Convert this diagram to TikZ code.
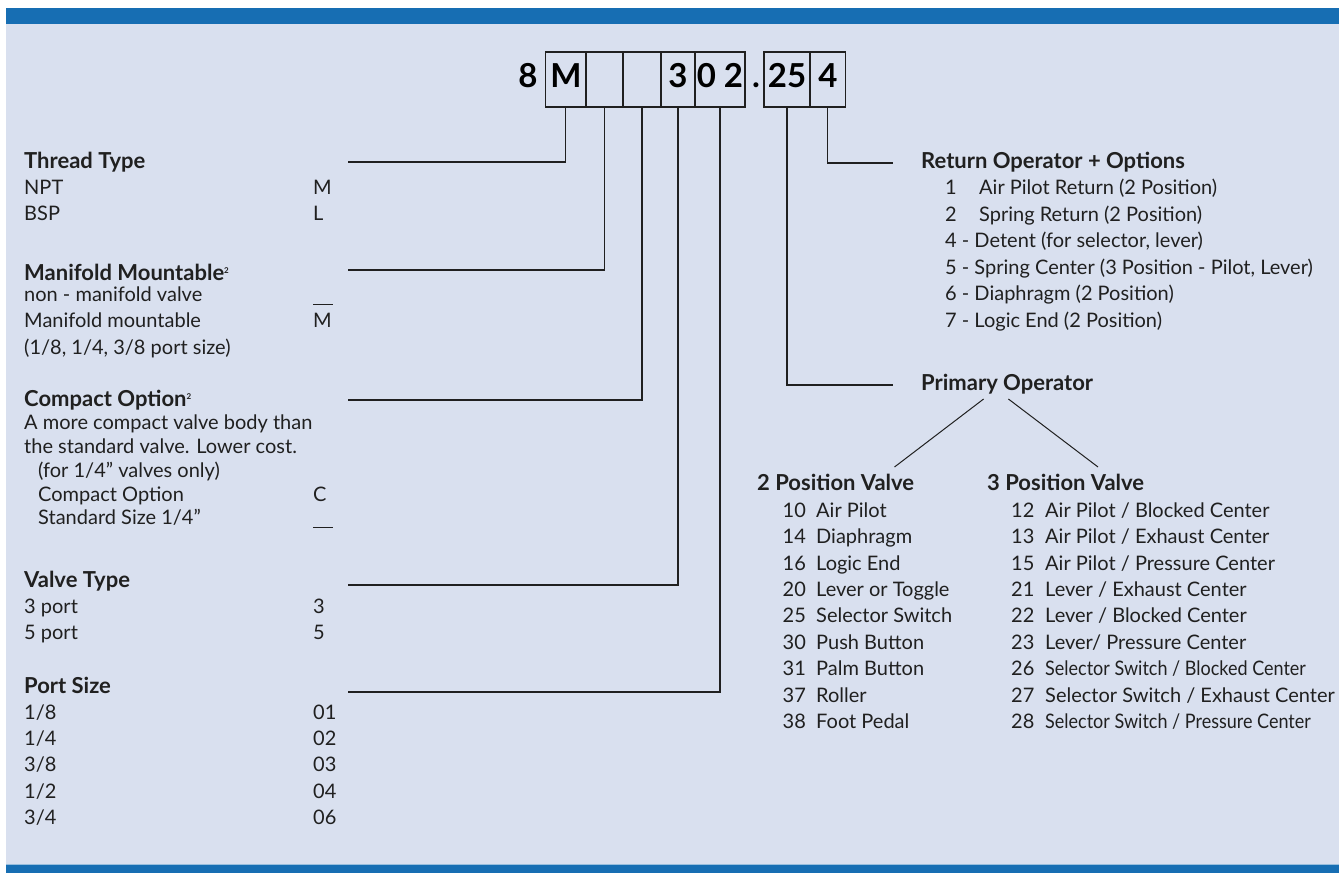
\documentclass[tikz,border=0pt]{standalone}
\usepackage{fontspec}
\setmainfont{Lato}
\usepackage{graphicx}
\usetikzlibrary{positioning}
\definecolor{band}{RGB}{23,110,179}
\definecolor{paper}{RGB}{217,224,239}
\definecolor{ink}{RGB}{32,32,32}
\newcommand{\squeeze}[1]{\scalebox{0.9}[1]{#1}}
\newcommand{\blankcode}{\rule[-3pt]{20pt}{0.9pt}}
\newcommand{\notetwo}{\raisebox{7pt}{\fontsize{8}{8}\selectfont 2}}

\tikzset{
  codebox/.style={draw=ink, line width=1.2pt, minimum height=55pt, inner sep=0pt,
    text height=24pt, text depth=9pt, font=\bfseries\fontsize{33}{36}\selectfont},
  codechar/.style={inner sep=0pt, text height=24pt, text depth=9pt,
    font=\bfseries\fontsize{33}{36}\selectfont},
  heading/.style={anchor=west, inner sep=0pt, text height=16pt, text depth=5pt,
    text=ink, font=\bfseries\fontsize{22}{24}\selectfont},
  entry/.style={anchor=west, inner sep=0pt, text height=14pt, text depth=5pt,
    text=ink, font=\fontsize{20}{22}\selectfont},
  leader/.style={draw=ink, line width=1.2pt},
}

\begin{document}
\begin{tikzpicture}[x=1pt, y=-1pt]
  \useasboundingbox (0,0) rectangle (1339,873);
  % background and bands
  \fill[white] (0,0) rectangle (1339,873);
  \fill[paper] (6,24) rectangle (1339,865);
  \fill[band] (6,8) rectangle (1339,24);
  \fill[band] (6,865) rectangle (1339,873);
  \draw[band!45!white, line width=1pt] (6,864) -- (1339,864);

  % model code
  \node[codechar] (c8) at (528,79.5) {8};
  \node[codebox, minimum width=40.3pt] (bM) at (565.85,79.5) {M};
  \node[codebox, minimum width=37pt] (bMan) at (604.5,79.5) {};
  \node[codebox, minimum width=38pt] (bCmp) at (642,79.5) {};
  \node[codebox, minimum width=34pt] (bTyp) at (678,79.5) {3};
  \node[codebox, minimum width=50pt] (bPort) at (720,79.5) {0\hspace{8pt}2};
  \node[codechar] (cdot) at (756,79.5) {.};
  \node[codebox, minimum width=46pt] (bPrim) at (787,79.5) {25};
  \node[codebox, minimum width=35.7pt] (bRet) at (827.85,79.5) {4};

  % thread type
  \node[heading] (thread) at (24,163) {Thread Type};
  \foreach \a/\b [count=\i from 0] in {NPT/M, BSP/L}{
    \node[entry] (thr-a\i) at (24,{190+26*\i}) {\a};
    \node[entry] (thr-b\i) at (313,{190+26*\i}) {\b};
  }

  % manifold mountable
  \node[heading] (manifold) at (24,275) {Manifold Mountable\notetwo};
  \node[entry] (man-a0) at (24,297) {non - manifold valve};
  \node[entry] (man-b0) at (313,297) {\blankcode};
  \node[entry] (man-a1) at (24,323) {Manifold mountable};
  \node[entry] (man-b1) at (313,323) {M};
  \node[entry] (man-a2) at (24,350) {(1/8, 1/4, 3/8 port size)};

  % compact option
  \node[heading] (compact) at (24,401) {Compact Option\notetwo};
  \node[entry] (cmp-a0) at (24,425) {A more compact valve body than};
  \node[entry] (cmp-a1) at (24,449) {the standard valve. Lower cost.};
  \node[entry] (cmp-a2) at (38,473) {(for 1/4'' valves only)};
  \node[entry] (cmp-a3) at (38,497) {Compact Option};
  \node[entry] (cmp-b3) at (313,497) {C};
  \node[entry] (cmp-a4) at (38,520) {Standard Size 1/4''};
  \node[entry] (cmp-b4) at (313,520) {\blankcode};

  % valve type
  \node[heading] (valve) at (24,582) {Valve Type};
  \foreach \a/\b [count=\i from 0] in {3 port/3, 5 port/5}{
    \node[entry] (typ-a\i) at (24,{609+25.5*\i}) {\a};
    \node[entry] (typ-b\i) at (313,{609+25.5*\i}) {\b};
  }

  % port size
  \node[heading] (port) at (24,688) {Port Size};
  \foreach \a/\b [count=\i from 0] in {{1/8}/01, {1/4}/02, {3/8}/03, {1/2}/04, {3/4}/06}{
    \node[entry] (prt-a\i) at (24,{714.5+26.4*\i}) {\a};
    \node[entry] (prt-b\i) at (313,{714.5+26.4*\i}) {\b};
  }

  % return operator
  \node[heading] (ret) at (921,163) {Return Operator + Options};
  \node[entry] (ret-n0) at (945,190) {1};
  \node[entry] (ret-t0) at (979,190) {Air Pilot Return (2 Position)};
  \node[entry] (ret-n1) at (945,216.6) {2};
  \node[entry] (ret-t1) at (979,216.6) {Spring Return (2 Position)};
  \foreach \t [count=\i from 2] in {{4 - Detent (for selector, lever)},
      {5 - Spring Center (3 Position - Pilot, Lever)},
      {6 - Diaphragm (2 Position)}, {7 - Logic End (2 Position)}}{
    \node[entry] (ret-t\i) at (945,{190+26.6*\i}) {\t};
  }

  % primary operator
  \node[heading] (prim) at (921,385) {Primary Operator};
  \node[heading] (pos2) at (757,485) {2 Position Valve};
  \node[heading] (pos3) at (987,485) {3 Position Valve};
  \foreach \n/\t [count=\i from 0] in {10/{Air Pilot}, 14/{Diaphragm},
      16/{Logic End}, 20/{Lever or Toggle}, 25/{Selector Switch},
      30/{Push Button}, 31/{Palm Button}, 37/{Roller}, 38/{Foot Pedal}}{
    \node[entry] (two-n\i) at (782.5,{512.7+26.4*\i}) {\n};
    \node[entry] (two-t\i) at (816,{512.7+26.4*\i}) {\t};
  }
  \foreach \n/\t [count=\i from 0] in {12/{Air Pilot / Blocked Center},
      13/{Air Pilot / Exhaust Center}, 15/{Air Pilot / Pressure Center},
      21/{Lever / Exhaust Center}, 22/{Lever / Blocked Center},
      23/{Lever/ Pressure Center}, 26/{\squeeze{Selector Switch / Blocked Center}},
      27/{Selector Switch / Exhaust Center}, 28/{\squeeze{Selector Switch / Pressure Center}}}{
    \node[entry] (thr-n\i) at (1011,{512.7+26.4*\i}) {\n};
    \node[entry] (thr-t\i) at (1045,{512.7+26.4*\i}) {\t};
  }

  % leaders
  \coordinate (thread-end) at (348,162);
  \coordinate (manifold-end) at (348,270);
  \coordinate (compact-end) at (348,400);
  \coordinate (valve-end) at (348,585);
  \coordinate (port-end) at (348,692);
  \draw[leader] (bM.south) |- (thread-end);
  \draw[leader] (bMan.south) |- (manifold-end);
  \draw[leader] (bCmp.south) |- (compact-end);
  \draw[leader] (bTyp.south) |- (valve-end);
  \draw[leader] (bPort.south) |- (port-end);
  \draw[leader] (bRet.south) |- ([xshift=-28pt]ret.west);
  \draw[leader] (bPrim.south) |- ([xshift=-28pt]prim.west);
  \coordinate (split2) at (894.5,467);
  \coordinate (split3) at (1098,467);
  \draw[leader, line width=1pt] (983.6,399) -- (split2);
  \draw[leader, line width=1pt] (1008.4,399) -- (split3);
\end{tikzpicture}
\end{document}
